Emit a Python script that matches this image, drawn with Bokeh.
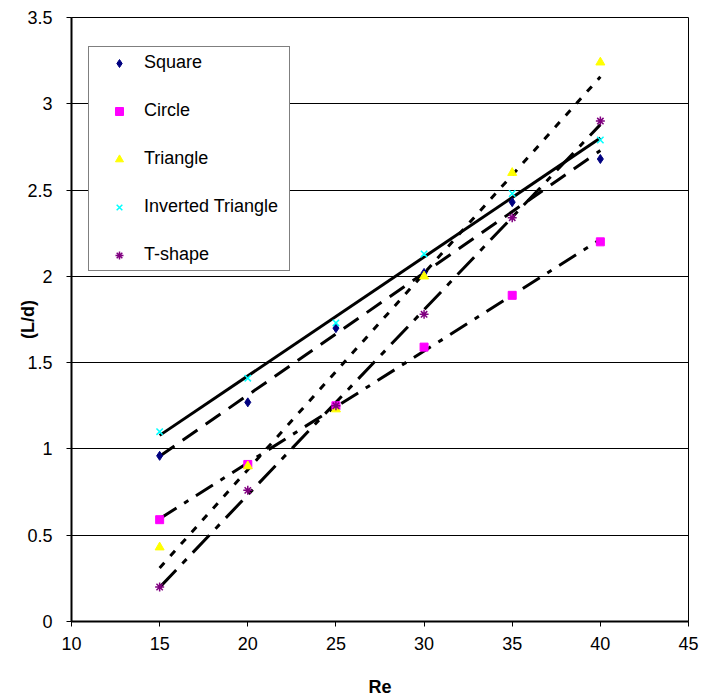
import numpy as np
from bokeh.plotting import figure
from bokeh.models import Legend, LegendItem, FixedTicker, Range1d
from bokeh.embed import file_html
from bokeh.resources import INLINE

re_vals = [15, 20, 25, 30, 35, 40]
square = [0.96, 1.27, 1.70, 2.02, 2.43, 2.68]
circle = [0.59, 0.91, 1.25, 1.59, 1.89, 2.20]
triangle = [0.43, 0.90, 1.23, 2.00, 2.60, 3.24]
inverted = [1.10, 1.41, 1.73, 2.13, 2.48, 2.79]
tshape = [0.20, 0.76, 1.25, 1.78, 2.34, 2.90]

names = ["Square", "Circle", "Triangle", "Inverted Triangle", "T-shape"]
series = [square, circle, triangle, inverted, tshape]
markers = ["diamond", "square", "triangle", "x", "asterisk"]
colors = ["#000080", "#FF00FF", "#FFFF00", "#00FFFF", "#800080"]
msizes = [9, 8, 9, 9, 9]
dashes = ["18 10", "20 9 5 9", "7 9", "solid", "24 9 6 9"]

FONT = "Liberation Sans"

p = figure(width=701, height=700, output_backend="svg", toolbar_location=None,
           x_range=Range1d(10, 45), y_range=Range1d(0, 3.5),
           min_border_left=71, min_border_right=13, min_border_top=17,
           min_border_bottom=79)
p.background_fill_color = "white"
p.border_fill_color = "white"
p.outline_line_color = "black"
p.outline_line_width = 1

p.xgrid.grid_line_color = None
p.ygrid.grid_line_color = "black"
p.ygrid.grid_line_width = 1

p.xaxis.ticker = FixedTicker(ticks=[10, 15, 20, 25, 30, 35, 40, 45])
p.yaxis.ticker = FixedTicker(ticks=[0, 0.5, 1, 1.5, 2, 2.5, 3, 3.5])
p.yaxis.formatter.use_scientific = False

for ax in (p.xaxis[0], p.yaxis[0]):
    ax.axis_line_color = "black"
    ax.axis_line_width = 2
    ax.major_tick_line_color = "black"
    ax.major_tick_in = 0
    ax.major_tick_out = 5
    ax.minor_tick_line_color = None
    ax.major_label_text_font = FONT
    ax.major_label_text_font_size = "18px"
    ax.major_label_text_color = "black"
    ax.axis_label_text_font = FONT
    ax.axis_label_text_font_size = "18px"
    ax.axis_label_text_font_style = "bold"
    ax.axis_label_text_color = "black"

p.xaxis.axis_label = "Re"
p.yaxis.axis_label = "(L/d)"
p.xaxis.major_label_standoff = 10
p.xaxis.axis_label_standoff = 24
p.yaxis.major_label_standoff = 14
p.yaxis.axis_label_standoff = -14

items = []
xs = np.array(re_vals, dtype=float)
for name, ys, mk, col, ms, dash in zip(names, series, markers, colors, msizes, dashes):
    k, b = np.polyfit(xs, np.array(ys), 1)
    xl = [xs.min(), xs.max()]
    yl = [k * xs.min() + b, k * xs.max() + b]
    p.line(xl, yl, line_color="black", line_width=3, line_dash=dash)

for name, ys, mk, col, ms in zip(names, series, markers, colors, msizes):
    r = p.scatter(re_vals, ys, marker=mk, size=ms, fill_color=col, line_color=col,
                  line_width=1.5 if mk in ("x", "asterisk") else 1)
    items.append(LegendItem(label=name, renderers=[r]))

legend = Legend(items=items, location=(17, 350))
legend.label_text_font = FONT
legend.label_text_font_size = "18px"
legend.label_text_color = "black"
legend.glyph_height = 20
legend.glyph_width = 50
legend.label_height = 20
legend.label_width = 140
legend.label_standoff = 0
legend.spacing = 27
legend.padding = 5
legend.margin = 0
legend.border_line_color = "black"
legend.border_line_width = 1
legend.background_fill_color = "white"
legend.background_fill_alpha = 1
p.add_layout(legend, "center")

open("out.html", "w").write(file_html(p, INLINE))
